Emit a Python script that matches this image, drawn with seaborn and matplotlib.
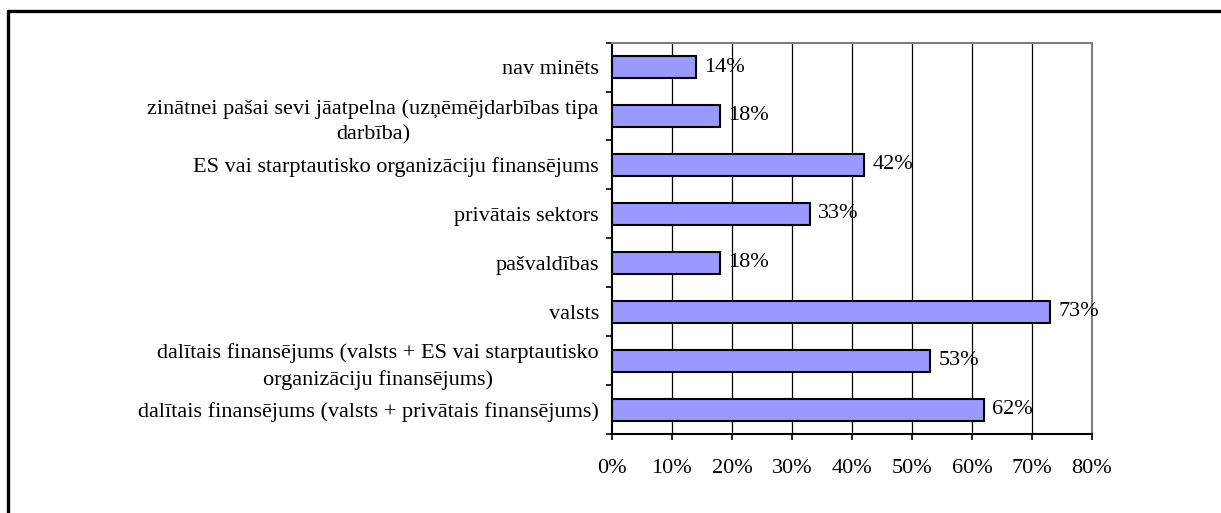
import matplotlib
matplotlib.use('Agg')
import matplotlib.pyplot as plt
from matplotlib.lines import Line2D
import seaborn as sns
import pandas as pd

# data
categories = [
    'nav minēts',
    'zinātnei pašai sevi jāatpelna (uzņēmējdarbības tipa\ndarbība)',
    'ES vai starptautisko organizāciju finansējums',
    'privātais sektors',
    'pašvaldības',
    'valsts',
    'dalītais finansējums (valsts + ES vai starptautisko\norganizāciju finansējums)',
    'dalītais finansējums (valsts + privātais finansējums)',
]
values = [14, 18, 42, 33, 18, 73, 53, 62]
xticks = [0, 10, 20, 30, 40, 50, 60, 70, 80]

df = pd.DataFrame({'cat': categories, 'val': values})

sns.set_style('white')
plt.rcParams['font.family'] = ['Liberation Serif', 'DejaVu Serif']
plt.rcParams['text.color'] = 'black'
plt.rcParams['xtick.labelcolor'] = 'black'
plt.rcParams['ytick.labelcolor'] = 'black'

fig = plt.figure(figsize=(12.21, 5.13), dpi=100)
ax = fig.add_axes([0.5012, 0.154, 0.3931, 0.763])

sns.barplot(data=df, x='val', y='cat', orient='h', color='#9999FF',
            edgecolor='black', linewidth=1.5, width=0.45, saturation=1, ax=ax)

ax.set_xlim(0, 80)
ax.set_ylim(len(categories) - 0.5, -0.5)
ax.set_xticks(xticks)
ax.set_xticklabels([f'{t}%' for t in xticks], fontsize=16)
ax.set_xlabel('')
ax.set_ylabel('')

# vertical gridlines
for t in xticks[1:-1]:
    ax.axvline(t, color='black', linewidth=0.9, zorder=0)

# y tick labels centered per line, ticks at category boundaries
ax.set_yticks(range(len(categories)))
ax.set_yticklabels(categories, fontsize=16, multialignment='center', linespacing=1.45)
ax.set_yticks([i - 0.5 for i in range(len(categories) + 1)], minor=True)
ax.tick_params(axis='y', which='major', length=0, pad=9.5)
ax.tick_params(axis='y', which='minor', length=4, width=1.2, color='black', left=True)
ax.tick_params(axis='x', which='major', length=4, width=1.2, color='black', bottom=True, pad=14)

for s in ['left', 'bottom']:
    ax.spines[s].set_color('black')
    ax.spines[s].set_linewidth(1.5)
for s in ['top', 'right']:
    ax.spines[s].set_visible(True)
    ax.spines[s].set_color('#808080')
    ax.spines[s].set_linewidth(1.5)

# value labels
for i, v in enumerate(values):
    ax.annotate(f'{v}%', (v, i), xytext=(6, 0), textcoords='offset points',
                va='center', ha='left', fontsize=16)

# outer frame (left and top edges visible)
W, H = 1221, 513
fig.add_artist(Line2D([8 / W, 8 / W], [0, 1 - 11 / H], color='black', linewidth=2.4,
                      transform=fig.transFigure))
fig.add_artist(Line2D([8 / W, 1], [1 - 11 / H, 1 - 11 / H], color='black', linewidth=2.4,
                      transform=fig.transFigure))

fig.savefig('out.png', dpi=100)
